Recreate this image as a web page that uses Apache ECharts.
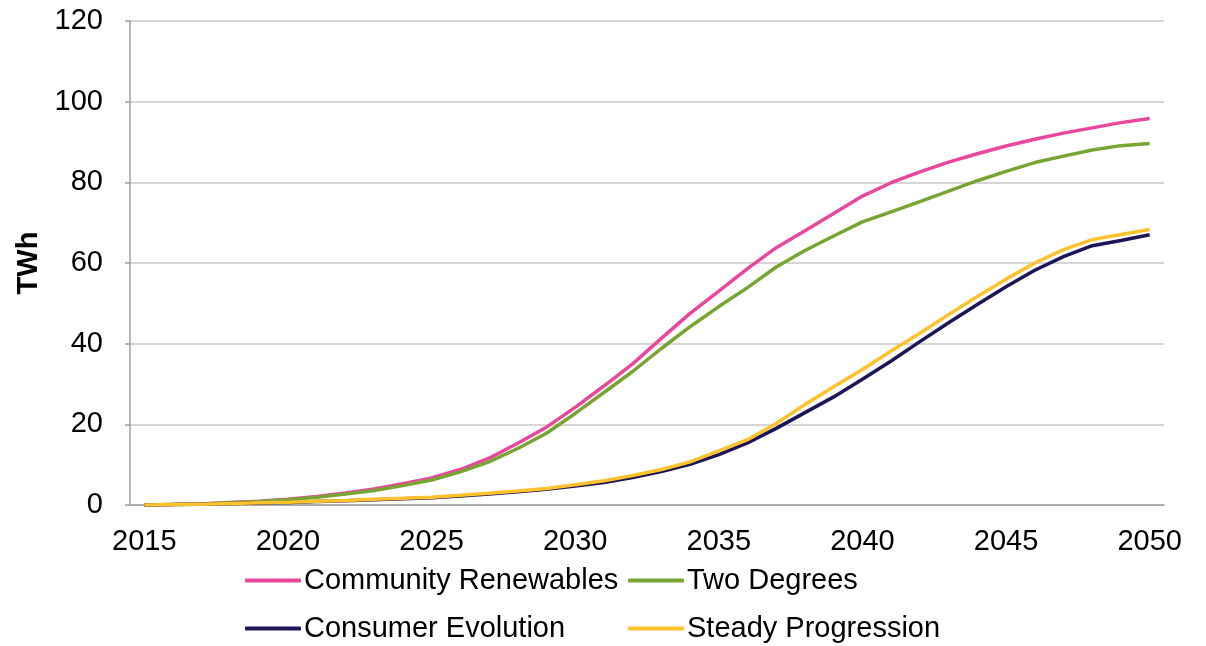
<!DOCTYPE html>
<html>
<head>
<meta charset="utf-8">
<script src="https://cdn.jsdelivr.net/npm/echarts@6/dist/echarts.min.js"></script>
<style>
  html, body { margin: 0; padding: 0; background: #ffffff; }
  #chart { width: 1206px; height: 646px; }
</style>
</head>
<body>
<div id="chart"></div>
<script>
// Years on the category axis
const years = [];
for (let y = 2015; y <= 2050; y++) years.push(String(y));

// Annual values (TWh) per scenario, 2015-2050
const communityRenewables = [0, 0.1, 0.25, 0.6, 0.9, 1.4, 2.1, 3.0, 4.0, 5.3, 6.7, 8.8, 11.6, 15.3, 19.3, 24.2, 29.5, 35.0, 41.3, 47.5, 53.0, 58.6, 63.8, 68.0, 72.3, 76.6, 79.9, 82.6, 85.0, 87.1, 89.0, 90.7, 92.2, 93.5, 94.8, 95.8];
const twoDegrees = [0, 0.1, 0.25, 0.55, 0.85, 1.3, 1.9, 2.7, 3.6, 4.8, 6.2, 8.2, 10.7, 14.0, 17.8, 22.7, 27.9, 33.1, 38.8, 44.2, 49.2, 53.9, 59.0, 63.1, 66.7, 70.2, 72.7, 75.2, 77.8, 80.4, 82.7, 84.9, 86.5, 88.0, 89.1, 89.6];
const consumerEvolution = [0, 0.1, 0.2, 0.35, 0.5, 0.65, 0.85, 1.05, 1.3, 1.55, 1.8, 2.2, 2.7, 3.3, 3.9, 4.7, 5.6, 6.8, 8.3, 10.1, 12.5, 15.4, 19.0, 22.9, 26.8, 31.2, 35.7, 40.5, 45.2, 49.7, 54.1, 58.2, 61.6, 64.3, 65.6, 67.0];
const steadyProgression = [0, 0.1, 0.2, 0.4, 0.55, 0.7, 0.9, 1.1, 1.4, 1.65, 1.95, 2.4, 2.9, 3.5, 4.1, 5.0, 6.0, 7.3, 8.8, 10.7, 13.4, 16.2, 20.2, 24.9, 29.3, 33.6, 38.2, 42.6, 47.2, 51.7, 56.0, 60.0, 63.3, 65.8, 67.05, 68.3];

// Y axis ticks
const yMin = 0, yMax = 120, yStep = 20;

const FONT = '"Liberation Sans", Arial, sans-serif';
const FONT_SIZE = 29;
const colors = {
  'Community Renewables': '#E8479B',
  'Two Degrees': '#78A434',
  'Consumer Evolution': '#1C1659',
  'Steady Progression': '#FDC22C'
};

function lineSeries(name, data) {
  return {
    name: name,
    type: 'line',
    data: data,
    symbol: 'none',
    smooth: false,
    lineStyle: { width: 3.5, color: colors[name] },
    itemStyle: { color: colors[name] }
  };
}

function legendAt(name, left, top) {
  return {
    data: [name],
    left: left,
    top: top,
    padding: 0,
    icon: 'roundRect',
    itemWidth: 56,
    itemHeight: 4,
    itemGap: 0,
    selectedMode: false,
    textStyle: { fontFamily: FONT, fontSize: FONT_SIZE, color: '#000000', padding: [0, 0, 0, -2] }
  };
}

const chart = echarts.init(document.getElementById('chart'), null, { renderer: 'canvas' });
chart.setOption({
  animation: false,
  backgroundColor: '#ffffff',
  grid: { left: 130, right: 42, top: 21, bottom: 141 },
  legend: [
    legendAt('Community Renewables', 245, 566),
    legendAt('Two Degrees', 628, 566),
    legendAt('Consumer Evolution', 245, 614),
    legendAt('Steady Progression', 628, 614)
  ],
  xAxis: {
    type: 'category',
    data: years,
    boundaryGap: true,
    axisLine: { show: true, lineStyle: { color: '#a0a0a0', width: 1.5 } },
    axisTick: { show: false },
    axisLabel: { interval: 4, margin: 22, fontFamily: FONT, fontSize: FONT_SIZE, color: '#000000' },
    splitLine: { show: false }
  },
  yAxis: {
    type: 'value',
    min: yMin,
    max: yMax,
    interval: yStep,
    name: 'TWh',
    nameLocation: 'middle',
    nameGap: 86,
    nameRotate: 90,
    nameTextStyle: { fontFamily: FONT, fontSize: FONT_SIZE, fontWeight: 'bold', color: '#000000' },
    axisLine: { show: true, lineStyle: { color: '#a0a0a0', width: 1.5 } },
    axisTick: { show: true, inside: false, length: 5, lineStyle: { color: '#a0a0a0', width: 1.5 } },
    axisLabel: { margin: 27, fontFamily: FONT, fontSize: FONT_SIZE, color: '#000000' },
    splitLine: { show: true, lineStyle: { color: '#c8c8c8', width: 1.5 } }
  },
  series: [
    lineSeries('Community Renewables', communityRenewables),
    lineSeries('Two Degrees', twoDegrees),
    lineSeries('Consumer Evolution', consumerEvolution),
    lineSeries('Steady Progression', steadyProgression)
  ]
});
</script>
</body>
</html>
